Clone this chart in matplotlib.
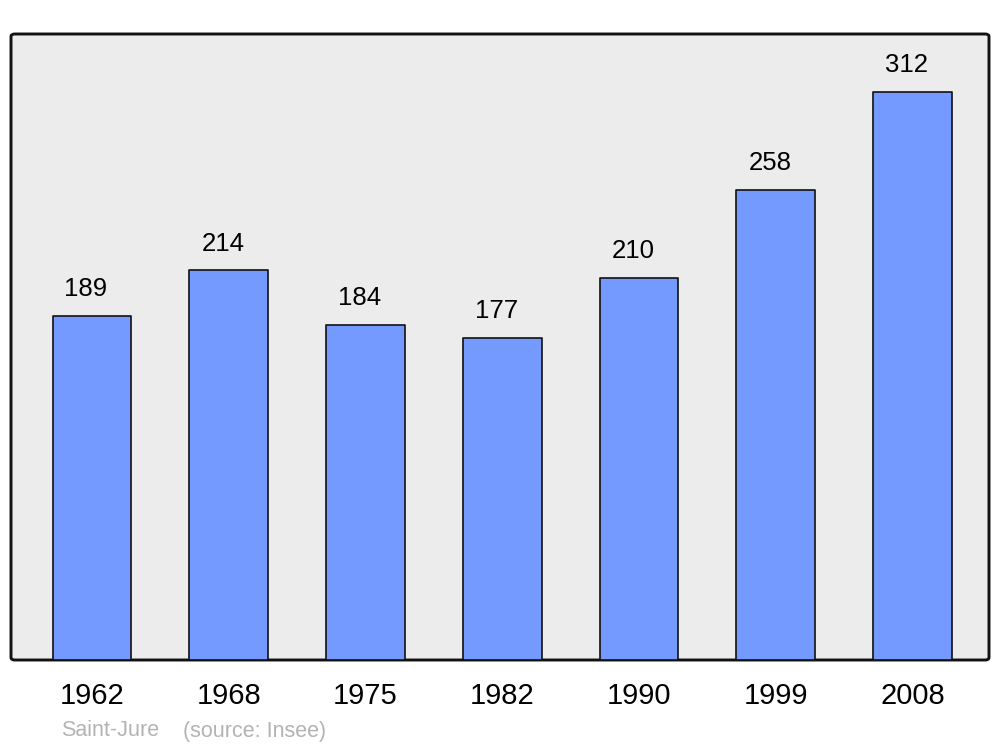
import matplotlib
matplotlib.use("Agg")
import matplotlib.pyplot as plt
from matplotlib.patches import FancyBboxPatch

years = ["1962", "1968", "1975", "1982", "1990", "1999", "2008"]
population = [189, 214, 184, 177, 210, 258, 312]
footer_name = "Saint-Jure"
footer_source = "(source: Insee)"

plt.rcParams['font.family'] = ['Liberation Sans', 'DejaVu Sans']

fig = plt.figure(figsize=(10, 7.47), dpi=100)
ax = fig.add_axes([0.011, 1 - 660/747, 0.978, (660-34)/747])
ax.set_facecolor('none')

# background frame with rounded corners
frame = FancyBboxPatch((0, 0), 1, 1, boxstyle="round,pad=0,rounding_size=0.004",
                       transform=ax.transAxes, facecolor='#ececec', edgecolor='#111111',
                       linewidth=2.1, zorder=0, clip_on=False)
ax.add_patch(frame)

x = list(range(len(years)))
bars = ax.bar(x, population, width=0.575, color='#7499ff', edgecolor='#111111',
              linewidth=1.2, zorder=2)
for b in bars:
    b.set_joinstyle('round')

for xi, v in zip(x, population):
    ax.annotate(str(v), (xi, v), xytext=(-4.3, 19.4), textcoords='offset points',
                ha='center', va='center', fontsize=18.5, color='black', zorder=3)

ax.set_xlim(-0.592, 6.559)
ax.set_ylim(0, 343.9)
for s in ax.spines.values():
    s.set_visible(False)
ax.set_yticks([])
ax.set_xticks(x)
ax.set_xticklabels(years, fontsize=21)
ax.tick_params(axis='x', length=0, pad=16)

fig.text(0.061, 1 - 731/747, footer_name, fontsize=15.5, color='#b3b3b3', va='center', ha='left')
fig.text(0.183, 1 - 731/747, footer_source, fontsize=15.5, color='#b3b3b3', va='center', ha='left')

fig.savefig("out.png", dpi=100, facecolor='white')
